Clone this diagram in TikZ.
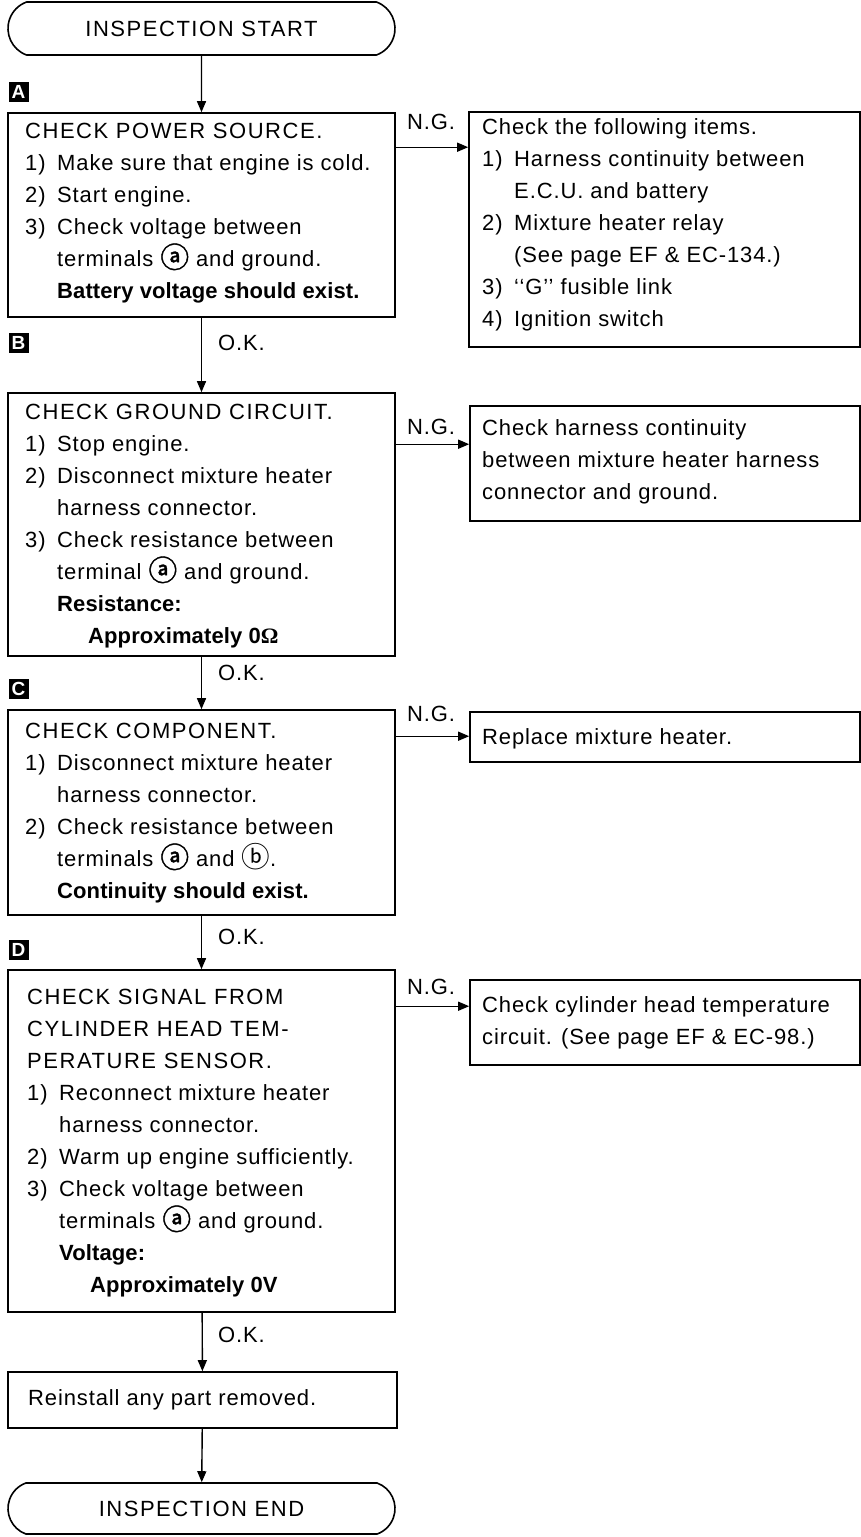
\documentclass[tikz,border=0pt]{standalone}
\usepackage{fontspec}
\setmainfont{Liberation Sans}[LetterSpace=4, BoldFeatures={LetterSpace=0.5}]
\newfontfamily\headfont{Liberation Sans}[LetterSpace=7]
\newfontfamily\symfont{Noto Sans CJK SC}
\newfontfamily\symboldfont{Noto Sans CJK SC}[FakeBold=1.5]
\newfontfamily\omegafont{Liberation Serif}
\usetikzlibrary{arrows.meta,shapes.misc}
\newcommand\ca{\raisebox{-1.5pt}{\scalebox{1.3}{\symboldfont ⓐ}}}
\newcommand\cb{\raisebox{-1.5pt}{\scalebox{1.3}{\symfont ⓑ}}}
\newcommand\itm[1]{\makebox[32pt][l]{#1)}}
\newcommand\ind{\hspace*{32pt}}
\newcommand\indd{\hspace*{63pt}}
\newcommand\fl{\rule{0pt}{20pt}}
\newcommand\bodyfont{\fontsize{22}{32}\selectfont}
\tikzset{
  box/.style={draw, line width=1.6pt, rectangle, inner sep=0pt},
  term/.style={draw, line width=1.6pt, rounded rectangle, rounded rectangle arc length=140,
    minimum width=387pt, inner sep=0pt, font=\headfont\bodyfont},
  tag/.style={fill=black, minimum size=20pt, inner sep=0pt, text=white, font=\bfseries\fontsize{19}{19}\selectfont},
  flow/.style={line width=1.4pt, -{Triangle[length=11pt,width=9pt]}},
  lbl/.style={inner sep=0pt, font=\bodyfont},
  txt/.style={anchor=north west, inner sep=0pt, align=left, font=\bodyfont},
}
\begin{document}
\begin{tikzpicture}[x=1pt,y=-1pt]
\useasboundingbox (0,0) rectangle (861,1537);
\fill[white] (0,0) rectangle (861,1537);

% terminals
\node[term, minimum height=53pt] (start) at (201.5,28.5) {INSPECTION START};
\node[term, minimum height=51pt] (end) at (201.5,1508.5) {INSPECTION END};

% main boxes
\node[box, minimum width=387pt, minimum height=204pt] (A) at (201.5,215) {};
\node[box, minimum width=387pt, minimum height=263pt] (B) at (201.5,524.5) {};
\node[box, minimum width=387pt, minimum height=205pt] (C) at (201.5,812.5) {};
\node[box, minimum width=387pt, minimum height=342pt] (D) at (201.5,1141) {};
\node[box, minimum width=389pt, minimum height=56pt] (E) at (202.5,1400) {};

% right boxes
\node[box, minimum width=391pt, minimum height=235pt] (R1) at (664.5,229.5) {};
\node[box, minimum width=390pt, minimum height=115pt] (R2) at (665,463.5) {};
\node[box, minimum width=390pt, minimum height=50pt] (R3) at (665,737) {};
\node[box, minimum width=390pt, minimum height=85pt] (R4) at (665,1022.5) {};

% tags
\node[tag] (tagA) at (18.5,92) {A};
\node[tag] (tagB) at (18.5,343) {B};
\node[tag] (tagC) at (18.5,689) {C};
\node[tag] (tagD) at (18.5,950) {D};

% texts
\node[txt] (tA) at (25,118) {\fl{\headfont CHECK POWER SOURCE.}\\
\itm{1}Make sure that engine is cold.\\
\itm{2}Start engine.\\
\itm{3}Check voltage between\\
\ind terminals \ca{} and ground.\\
\ind\textbf{Battery voltage should exist.}};

\node[txt] (tB) at (25,399) {\fl{\headfont CHECK GROUND CIRCUIT.}\\
\itm{1}Stop engine.\\
\itm{2}Disconnect mixture heater\\
\ind harness connector.\\
\itm{3}Check resistance between\\
\ind terminal \ca{} and ground.\\
\ind\textbf{Resistance:}\\
\indd\textbf{Approximately 0{\omegafont Ω}}};

\node[txt] (tC) at (25,718) {\fl{\headfont CHECK COMPONENT.}\\
\itm{1}Disconnect mixture heater\\
\ind harness connector.\\
\itm{2}Check resistance between\\
\ind terminals \ca{} and \cb.\\
\ind\textbf{Continuity should exist.}};

\node[txt] (tD) at (27,984) {\fl{\headfont CHECK SIGNAL FROM}\\
{\headfont CYLINDER HEAD TEM-}\\
{\headfont PERATURE SENSOR.}\\
\itm{1}Reconnect mixture heater\\
\ind harness connector.\\
\itm{2}Warm up engine sufficiently.\\
\itm{3}Check voltage between\\
\ind terminals \ca{} and ground.\\
\ind\textbf{Voltage:}\\
\indd\textbf{Approximately 0V}};

\node[txt] (tE) at (28,1385) {\fl Reinstall any part removed.};

\node[txt] (tR1) at (482,114) {\fl Check the following items.\\
\itm{1}Harness continuity between\\
\ind E.C.U. and battery\\
\itm{2}Mixture heater relay\\
\ind (See page EF \& EC-134.)\\
\itm{3}‘‘G’’ fusible link\\
\itm{4}Ignition switch};

\node[txt] (tR2) at (482,415) {\fl Check harness continuity\\
between mixture heater harness\\
connector and ground.};

\node[txt] (tR3) at (482,724) {\fl Replace mixture heater.};

\node[txt] (tR4) at (482,992) {\fl Check cylinder head temperature\\
circuit. (See page EF \& EC-98.)};

% vertical flow
\draw[flow] (start) -- (A);
\draw[flow] (A) -- (B);
\draw[flow] (B) -- (C);
\draw[flow] (C) -- (D);
\draw[flow] (D) -- (E);
\draw[flow] (E) -- (end);

% N.G. arrows
\draw[flow] ([yshift=-35pt]A.north east) -- ([yshift=-35pt]A.north east -| R1.west);
\draw[flow] ([yshift=-52pt]B.north east) -- ([yshift=-52pt]B.north east -| R2.west);
\draw[flow] ([yshift=-27pt]C.north east) -- ([yshift=-27pt]C.north east -| R3.west);
\draw[flow] ([yshift=-37pt]D.north east) -- ([yshift=-37pt]D.north east -| R4.west);

% labels
\node[lbl] (ngA) at (431,122) {N.G.};
\node[lbl] (ngB) at (431,427) {N.G.};
\node[lbl] (ngC) at (431,714) {N.G.};
\node[lbl] (ngD) at (431,987) {N.G.};
\node[lbl, anchor=west] (okA) at (218,343) {O.K.};
\node[lbl, anchor=west] (okB) at (218,673) {O.K.};
\node[lbl, anchor=west] (okC) at (218,937) {O.K.};
\node[lbl, anchor=west] (okD) at (218,1335) {O.K.};
\end{tikzpicture}
\end{document}
